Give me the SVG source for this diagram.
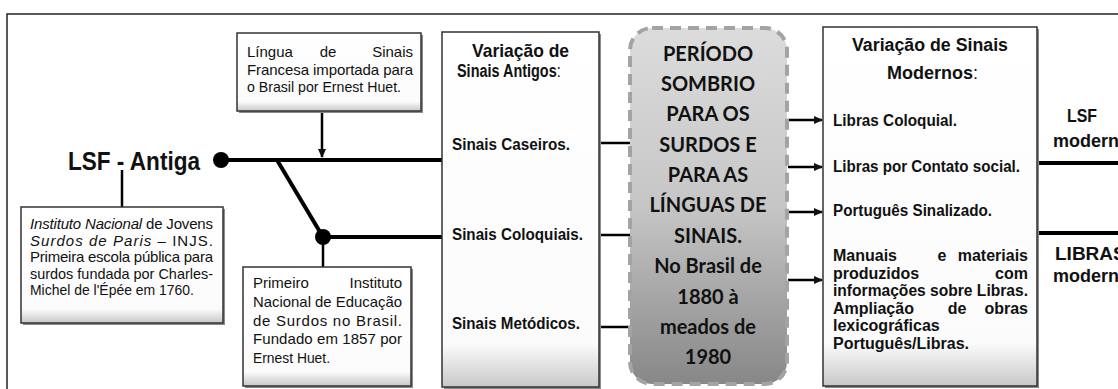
<svg xmlns="http://www.w3.org/2000/svg" width="1118" height="389" viewBox="0 0 1118 389">
<defs>
<linearGradient id="boxg" x1="0" y1="0" x2="0" y2="1">
<stop offset="0" stop-color="#ffffff"/>
<stop offset="0.88" stop-color="#fbfbfb"/>
<stop offset="1" stop-color="#c8c8c8"/>
</linearGradient>
<linearGradient id="darkg" x1="0" y1="0" x2="0" y2="1">
<stop offset="0" stop-color="#dcdcdc"/>
<stop offset="0.5" stop-color="#c6c6c6"/>
<stop offset="1" stop-color="#878787"/>
</linearGradient>
<marker id="ah" markerUnits="userSpaceOnUse" markerWidth="9" markerHeight="9" refX="8" refY="4.5" orient="auto">
<path d="M0,0.5 L9,4.5 L0,8.5 z" fill="#111"/>
</marker>
<style>
.box{fill:url(#boxg);stroke:#333;stroke-width:1.5}
.sh{fill:#8a8a8a}
.t{font-family:"Liberation Sans",Arial,sans-serif;font-size:15px;fill:#111}
.b{font-weight:bold}
.n{font-weight:normal}
.i{font-style:italic}
.p{font-family:Lato,"Open Sans",sans-serif;font-weight:bold;font-size:20px;fill:#111;text-anchor:middle}
.thick{stroke:#000;stroke-width:4;fill:none}
.thin{stroke:#000;stroke-width:2.5;fill:none}
.e{text-anchor:end}
.m{text-anchor:middle}
</style>
</defs>
<rect width="1118" height="389" fill="#fff"/>
<path d="M7,389 V14 H1118" fill="none" stroke="#222" stroke-width="1.5"/>

<g id="connectors">
<line class="thick" x1="221" y1="160" x2="443" y2="160"/>
<line class="thick" x1="277" y1="160" x2="323" y2="237"/>
<line class="thick" x1="323" y1="237" x2="443" y2="237"/>
<line class="thin" x1="323" y1="237" x2="323" y2="267"/>
<line class="thin" x1="122" y1="170" x2="122" y2="207"/>
<line class="thin" x1="322" y1="112" x2="322" y2="157" marker-end="url(#ah)"/>
<line class="thin" x1="590" y1="143" x2="631" y2="143"/>
<line class="thin" x1="590" y1="235" x2="631" y2="235"/>
<line class="thin" x1="590" y1="327" x2="631" y2="327"/>
<line class="thin" x1="788" y1="120" x2="822" y2="120" marker-end="url(#ah)"/>
<line class="thin" x1="788" y1="167" x2="822" y2="167" marker-end="url(#ah)"/>
<line class="thin" x1="788" y1="212" x2="822" y2="212" marker-end="url(#ah)"/>
<line class="thin" x1="788" y1="280" x2="822" y2="280" marker-end="url(#ah)"/>
<line class="thick" x1="1037" y1="163" x2="1118" y2="163"/>
<line class="thick" x1="1037" y1="233" x2="1118" y2="233"/>
<circle cx="221" cy="160" r="8" fill="#000"/>
<circle cx="323" cy="237" r="8" fill="#000"/>
</g>

<g id="lsf-antiga">
<text class="t b" x="68" y="170" textLength="132" lengthAdjust="spacingAndGlyphs" style="font-size:26px">LSF - Antiga</text>
</g>

<g id="box-lingua">
<rect class="sh" x="239" y="35" width="184" height="78"/>
<rect class="box" x="237" y="33" width="184" height="78"/>
<text class="t" x="247" y="57">Língua</text>
<text class="t m" x="328" y="57">de</text>
<text class="t e" x="413" y="57">Sinais</text>
<text class="t" x="247" y="75" textLength="166" lengthAdjust="spacing">Francesa importada para</text>
<text class="t" x="247" y="92" textLength="154" lengthAdjust="spacingAndGlyphs">o Brasil por Ernest Huet.</text>
</g>

<g id="box-injs">
<rect class="sh" x="23" y="209" width="202" height="116"/>
<rect class="box" x="21" y="207" width="202" height="116"/>
<text class="t" x="30" y="229" textLength="183" lengthAdjust="spacing"><tspan class="i">Instituto Nacional</tspan> de Jovens</text>
<text class="t" x="30" y="246" textLength="183" lengthAdjust="spacing"><tspan class="i">Surdos de Paris</tspan> – INJS.</text>
<text class="t" x="30" y="262" textLength="183" lengthAdjust="spacing">Primeira escola pública para</text>
<text class="t" x="30" y="279" textLength="183" lengthAdjust="spacingAndGlyphs">surdos fundada por Charles-</text>
<text class="t" x="30" y="295" textLength="164" lengthAdjust="spacingAndGlyphs">Michel de l'Épée em 1760.</text>
</g>

<g id="box-primeiro">
<rect class="sh" x="245" y="269" width="168" height="119"/>
<rect class="box" x="243" y="267" width="168" height="119"/>
<text class="t" x="253" y="288">Primeiro</text>
<text class="t e" x="402" y="288">Instituto</text>
<text class="t" x="253" y="307" textLength="149" lengthAdjust="spacingAndGlyphs">Nacional de Educação</text>
<text class="t" x="253" y="326" textLength="149" lengthAdjust="spacing">de Surdos no Brasil.</text>
<text class="t" x="253" y="344" textLength="149" lengthAdjust="spacing">Fundado em 1857 por</text>
<text class="t" x="253" y="363" textLength="77" lengthAdjust="spacingAndGlyphs">Ernest Huet.</text>
</g>

<g id="box-antigos">
<rect class="sh" x="444" y="34" width="157" height="355"/>
<rect class="box" x="442" y="32" width="157" height="355"/>
<text class="t b" x="472" y="57" textLength="97" lengthAdjust="spacingAndGlyphs" style="font-size:19px">Variação de</text>
<text class="t b" transform="translate(457,77) scale(0.76,1)" x="0" y="0" style="font-size:19px">Sinais Antigos<tspan class="n">:</tspan></text>
<text class="t b" x="452" y="150" textLength="118" lengthAdjust="spacingAndGlyphs" style="font-size:17px">Sinais Caseiros.</text>
<text class="t b" x="452" y="240" textLength="131" lengthAdjust="spacingAndGlyphs" style="font-size:17px">Sinais Coloquiais.</text>
<text class="t b" x="452" y="329" textLength="128" lengthAdjust="spacingAndGlyphs" style="font-size:17px">Sinais Metódicos.</text>
</g>

<g id="box-periodo">
<rect x="630" y="28" width="157" height="356" rx="22" ry="22" fill="url(#darkg)" stroke="#a3a3a3" stroke-width="4" stroke-dasharray="11 7"/>
<text class="p" x="708" y="61">PERÍODO</text>
<text class="p" x="708" y="91">SOMBRIO</text>
<text class="p" x="708" y="121">PARA OS</text>
<text class="p" x="708" y="152">SURDOS E</text>
<text class="p" x="708" y="182">PARA AS</text>
<text class="p" x="708" y="212">LÍNGUAS DE</text>
<text class="p" x="708" y="243">SINAIS.</text>
<text class="p" x="708" y="273">No Brasil de</text>
<text class="p" x="708" y="304">1880 à</text>
<text class="p" x="708" y="334">meados de</text>
<text class="p" x="708" y="364">1980</text>
</g>

<g id="box-modernos">
<rect class="sh" x="825" y="29" width="214" height="359"/>
<rect class="box" x="823" y="27" width="214" height="359"/>
<text class="t b" x="852" y="51" textLength="156" lengthAdjust="spacingAndGlyphs" style="font-size:18px">Variação de Sinais</text>
<text class="t b" x="887" y="79" style="font-size:18px">Modernos<tspan class="n">:</tspan></text>
<text class="t b" x="833" y="126" textLength="124" lengthAdjust="spacingAndGlyphs" style="font-size:16px">Libras Coloquial.</text>
<text class="t b" x="833" y="172" textLength="187" lengthAdjust="spacingAndGlyphs" style="font-size:16px">Libras por Contato social.</text>
<text class="t b" x="833" y="216" textLength="159" lengthAdjust="spacingAndGlyphs" style="font-size:16px">Português Sinalizado.</text>
<text class="t b" x="833" y="261" style="font-size:16px">Manuais</text>
<text class="t b m" x="942" y="261" style="font-size:16px">e</text>
<text class="t b e" x="1028" y="261" style="font-size:16px">materiais</text>
<text class="t b" x="833" y="279" style="font-size:16px">produzidos</text>
<text class="t b e" x="1028" y="279" style="font-size:16px">com</text>
<text class="t b" x="833" y="296" textLength="195" lengthAdjust="spacingAndGlyphs" style="font-size:16px">informações sobre Libras.</text>
<text class="t b" x="833" y="314" style="font-size:16px">Ampliação</text>
<text class="t b m" x="957" y="314" style="font-size:16px">de</text>
<text class="t b e" x="1028" y="314" style="font-size:16px">obras</text>
<text class="t b" x="833" y="331" style="font-size:16px">lexicográficas</text>
<text class="t b" x="833" y="349" style="font-size:16px">Português/Libras.</text>
</g>

<g id="lsf-moderna">
<text class="t b" x="1067" y="122" textLength="30" lengthAdjust="spacingAndGlyphs" style="font-size:19px">LSF</text>
<text class="t b" x="1053" y="147" style="font-size:18px">moderna</text>
</g>
<g id="libras-moderna">
<text class="t b" x="1055" y="260" style="font-size:19px">LIBRAS</text>
<text class="t b" x="1053" y="282" style="font-size:18px">moderna</text>
</g>
</svg>
